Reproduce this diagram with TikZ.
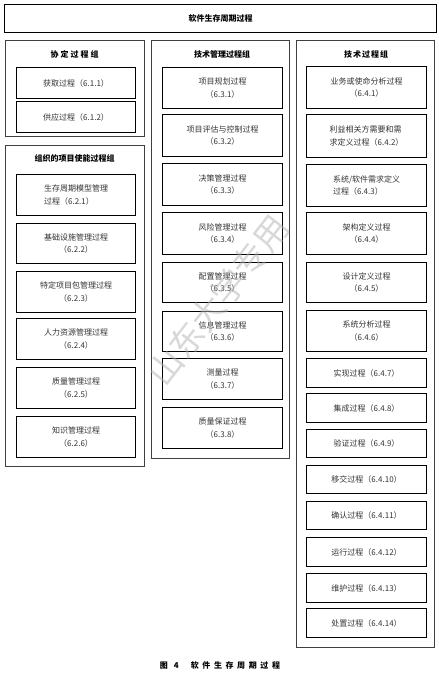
\documentclass[tikz,border=0pt]{standalone}
\usepackage{fontspec}
\setmainfont{Noto Sans CJK SC}
\begin{document}
\begin{tikzpicture}[x=1pt,y=-1pt,
  grp/.style={draw=black!75,line width=0.9pt,anchor=north west,inner sep=0pt},
  proc/.style={draw=black,line width=1.2pt,anchor=north west,inner sep=0pt,
    align=center,font=\fontsize{8}{12.5}\selectfont,text=black!80},
  proct/.style={proc,align=left},
  grptitle/.style={font=\bfseries\fontsize{8}{9}\selectfont,inner sep=0pt},
  topbox/.style={draw=black,line width=1.4pt,anchor=north west,inner sep=0pt,
    font=\bfseries\fontsize{8}{9}\selectfont},
  wmark/.style={font=\fontsize{34}{36}\selectfont,text=black!30,opacity=0.5,rotate=52}
]
\useasboundingbox (0,0) rectangle (439,678);
\newcommand{\procnode}[7][proc]{\node[#1,minimum width=#5pt,minimum height=#6pt] (#2) at (#3,#4) {#7};}
\newcommand{\grpnode}[5]{\node[grp,minimum width=#4pt,minimum height=#5pt] (#1) at (#2,#3) {};}

% top box
\node[topbox,minimum width=432pt,minimum height=28pt] (top) at (4,4) {软件生存周期过程};

% group A1
\grpnode{gA}{5}{40}{139}{96}
\node[grptitle] (tA) at (74.5,54) {协\hspace{2pt}定\hspace{2pt}过\hspace{2pt}程\hspace{2pt}组};
\procnode{a1}{16}{67}{119}{31}{获取过程（6.1.1）}
\procnode{a2}{16}{101}{119}{31}{供应过程（6.1.2）}

% group A2
\grpnode{gB}{5}{145}{139}{321}
\node[grptitle] (tB) at (74.5,158) {组织的项目使能过程组};
\procnode[proct]{b1}{16}{174}{119}{41}{生存周期模型管理\\ 过程（6.2.1）}
\procnode{b2}{16}{223}{119}{40}{基础设施管理过程\\（6.2.2）}
\procnode{b3}{16}{271}{119}{41}{特定项目包管理过程\\（6.2.3）}
\procnode{b4}{16}{318}{119}{41}{人力资源管理过程\\（6.2.4）}
\procnode{b5}{16}{367}{119}{41}{质量管理过程\\（6.2.5）}
\procnode{b6}{16}{416}{119}{41}{知识管理过程\\（6.2.6）}

% group B
\grpnode{gC}{151}{40}{138}{418}
\node[grptitle] (tC) at (222,54) {技术管理过程组};
\procnode{c1}{162}{67}{120}{41}{项目规划过程\\（6.3.1）}
\procnode{c2}{162}{114}{120}{42}{项目评估与控制过程\\（6.3.2）}
\procnode{c3}{162}{163}{120}{42}{决策管理过程\\（6.3.3）}
\procnode{c4}{162}{212}{120}{42}{风险管理过程\\（6.3.4）}
\procnode{c5}{162}{262}{120}{40}{配置管理过程\\（6.3.5）}
\procnode{c6}{162}{311}{120}{40}{信息管理过程\\（6.3.6）}
\procnode{c7}{162}{358}{120}{41}{测量过程\\（6.3.7）}
\procnode{c8}{162}{407}{120}{41}{质量保证过程\\（6.3.8）}

% group C
\grpnode{gD}{296}{40}{138}{607}
\node[grptitle] (tD) at (366,54) {技\hspace{1pt}术\hspace{1pt}过\hspace{1pt}程\hspace{1pt}组};
\procnode{d1}{306}{66}{120}{42}{业务或使命分析过程\\（6.4.1）}
\procnode[proct]{d2}{306}{114}{120}{43}{利益相关方需要和需\\求定义过程（6.4.2）}
\procnode[proct]{d3}{306}{164}{120}{42}{系统/软件需求定义\\过程（6.4.3）}
\procnode{d4}{306}{212}{120}{42}{架构定义过程\\（6.4.4）}
\procnode{d5}{306}{262}{120}{40}{设计定义过程\\（6.4.5）}
\procnode{d6}{306}{310}{120}{41}{系统分析过程\\（6.4.6）}
\procnode{d7}{306}{358}{120}{29}{实现过程（6.4.7）}
\procnode{d8}{306}{393}{120}{29}{集成过程（6.4.8）}
\procnode{d9}{306}{429}{120}{28}{验证过程（6.4.9）}
\procnode{d10}{306}{465}{120}{28}{移交过程（6.4.10）}
\procnode{d11}{306}{501}{120}{28}{确认过程（6.4.11）}
\procnode{d12}{306}{537}{120}{29}{运行过程（6.4.12）}
\procnode{d13}{306}{573}{120}{29}{维护过程（6.4.13）}
\procnode{d14}{306}{608}{120}{29}{处置过程（6.4.14）}

% watermark
\node[wmark] (wm) at (218,300) {山东大学专用};

% caption
\node[font=\bfseries\fontsize{8}{10}\selectfont,inner sep=0pt] (cap) at (220,665)
  {图\hspace{6pt}4\hspace{12pt}软\hspace{3.6pt}件\hspace{3.6pt}生\hspace{3.6pt}存\hspace{3.6pt}周\hspace{3.6pt}期\hspace{3.6pt}过\hspace{3.6pt}程};
\end{tikzpicture}
\end{document}
